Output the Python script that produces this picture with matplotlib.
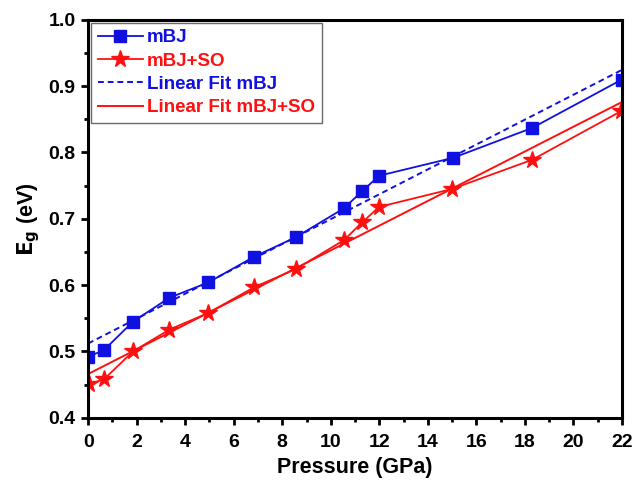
import matplotlib.pyplot as plt
import numpy as np

plt.rcParams['font.family'] = ['Liberation Sans', 'DejaVu Sans']
plt.rcParams['font.weight'] = 'bold'

# === DATA ===
pressure_mbj = [0.0, 0.65, 1.85, 3.35, 4.95, 6.85, 8.55, 10.55, 11.3, 12.0, 15.05, 18.3, 22.0]
eg_mbj = [0.492, 0.502, 0.545, 0.581, 0.604, 0.643, 0.672, 0.716, 0.742, 0.765, 0.792, 0.837, 0.910]

pressure_so = [0.05, 0.65, 1.85, 3.35, 4.95, 6.85, 8.55, 10.55, 11.3, 12.0, 15.0, 18.3, 21.95]
eg_so = [0.451, 0.458, 0.500, 0.533, 0.558, 0.597, 0.624, 0.668, 0.695, 0.718, 0.745, 0.789, 0.862]

# linear fits: intercept (eV), slope (eV/GPa)
fit_mbj = (0.512, 0.01875)
fit_so = (0.466, 0.01864)
fit_range = [0.0, 22.0]

blue = '#1010e0'
red = '#ff1010'

# === PLOT ===
fig = plt.figure(figsize=(6.34, 4.83), dpi=100)
ax = fig.add_axes([0.139, 0.135, 0.842, 0.824])

ax.plot(pressure_mbj, eg_mbj, '-', color=blue, lw=1.3, marker='s', ms=9,
        mec=blue, mfc=blue, label='mBJ')
ax.plot(pressure_so, eg_so, '-', color=red, lw=1.3, marker='*', ms=13,
        mec=red, mfc=red, label='mBJ+SO')

xf = np.array(fit_range)
ax.plot(xf, fit_mbj[0] + fit_mbj[1] * xf, color=blue, lw=1.4,
        dashes=(3, 2), label='Linear Fit mBJ')
ax.plot(xf, fit_so[0] + fit_so[1] * xf, color=red, lw=1.4,
        label='Linear Fit mBJ+SO')

ax.set_xlim(0, 22)
ax.set_ylim(0.4, 1.0)
ax.set_xticks(np.arange(0, 23, 2))
ax.set_xticks(np.arange(1, 22, 2), minor=True)
ax.set_yticks(np.arange(0.4, 1.01, 0.1))
ax.set_yticks(np.arange(0.45, 1.0, 0.1), minor=True)
ax.yaxis.set_major_formatter(plt.FormatStrFormatter('%.1f'))

for s in ax.spines.values():
    s.set_linewidth(2.2)
ax.tick_params(which='major', length=5, width=2, labelsize=14, pad=4)
ax.tick_params(axis='x', which='major', pad=7)
ax.tick_params(which='minor', length=3, width=2)
for lbl in ax.get_xticklabels() + ax.get_yticklabels():
    lbl.set_fontweight('bold')

ax.set_xlabel('Pressure (GPa)', fontsize=15.5, fontweight='bold', labelpad=4)
ax.set_ylabel(r'$\mathbf{E_g}$ (eV)', fontsize=15.5, fontweight='bold', labelpad=5)

leg = ax.legend(loc='upper left', fontsize=13.5, frameon=True, fancybox=False,
                edgecolor='#444444', handlelength=2.4, borderaxespad=0.15,
                labelspacing=0.33, handletextpad=0.25, borderpad=0.35,
                numpoints=1)
leg.get_frame().set_linewidth(1.0)
for txt, col in zip(leg.get_texts(), [blue, red, blue, red]):
    txt.set_color(col)
    txt.set_fontweight('bold')

plt.savefig('out.png', dpi=100)
